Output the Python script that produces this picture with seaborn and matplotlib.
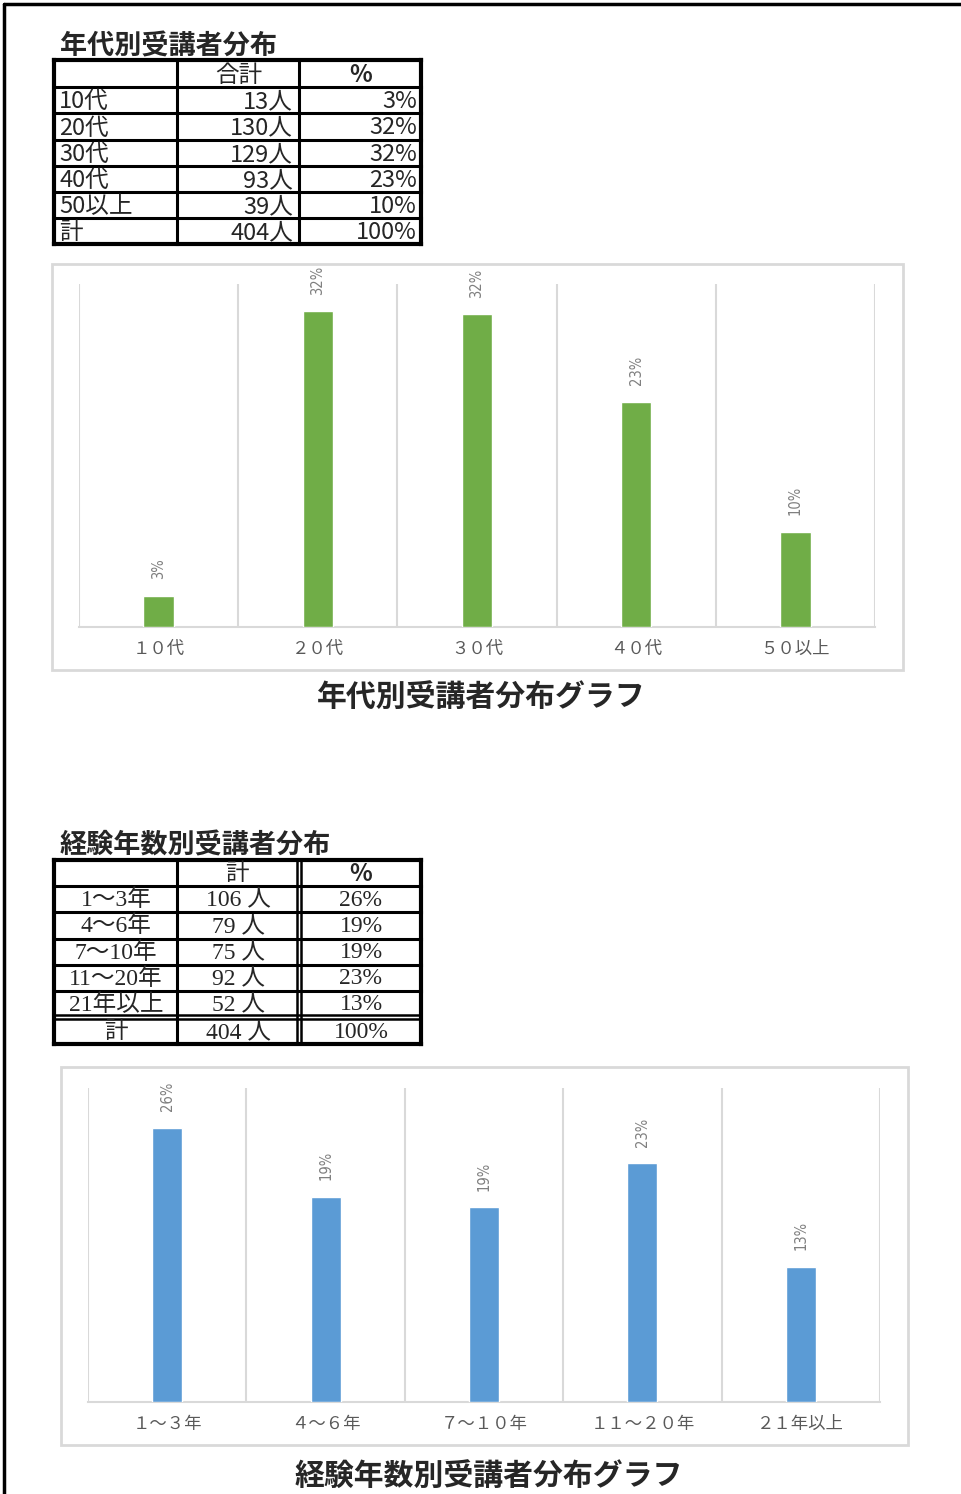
import matplotlib
matplotlib.use("Agg")
import matplotlib.pyplot as plt
import seaborn as sns
import pandas as pd

# --------------------------
# データ
# --------------------------
age_title = "年代別受講者分布"
age_cats = ["10代", "20代", "30代", "40代", "50以上"]
age_ticks = ["１０代", "２０代", "３０代", "４０代", "５０以上"]
age_counts = [13, 130, 129, 93, 39]
age_pct = [3.2, 32.2, 31.9, 23.0, 9.7]      # グラフの棒の高さ (%)
age_pct_label = ["3%", "32%", "32%", "23%", "10%"]
age_total = 404

exp_title = "経験年数別受講者分布"
exp_cats = ["1～3年", "4～6年", "7～10年", "11～20年", "21年以上"]
exp_ticks = ["１～３年", "４～６年", "７～１０年", "１１～２０年", "２１年以上"]
exp_counts = [106, 79, 75, 92, 52]
exp_pct = [26.2, 19.6, 18.6, 22.8, 12.9]
exp_pct_label = ["26%", "19%", "19%", "23%", "13%"]
exp_total = 404

W, H = 961, 1494
JP = ["Noto Sans CJK JP", "DejaVu Sans"]
MINCHO = ["Liberation Serif", "Noto Sans CJK JP"]

sns.set_theme(style="white")
plt.rcParams["font.family"] = JP

fig = plt.figure(figsize=(W / 100, H / 100), dpi=100)
bg = fig.add_axes([0, 0, 1, 1])
bg.set_xlim(0, W)
bg.set_ylim(H, 0)
bg.axis("off")

# ページ枠
bg.plot([4, W], [4, 4], color="black", lw=2.5)
bg.plot([4, 4], [4, H], color="black", lw=2.5)


def hline(x0, x1, y, lw=2.2):
    bg.plot([x0, x1], [y, y], color="black", lw=lw, solid_capstyle="projecting")


def vline(x, y0, y1, lw=2.2):
    bg.plot([x, x], [y0, y1], color="black", lw=lw, solid_capstyle="projecting")


# ===============================================================
# 表1: 年代別
# ===============================================================
bg.text(60, 46, age_title, fontsize=19.5, fontweight="bold", va="center", ha="left")
cols = [54, 177, 299, 421]
rows = [60, 87, 113, 140, 166, 192, 218, 244]
for y in rows:
    hline(cols[0], cols[-1], y, lw=3 if y in (60, 244) else 2.2)
for x in cols:
    vline(x, rows[0], rows[-1], lw=3 if x in (54, 421) else 2.2)

bg.text(239, 75, "合計", fontsize=17, ha="center", va="center")
bg.text(361, 75, "%", fontsize=17, ha="center", va="center", fontweight="bold")
row_labels = age_cats + ["計"]
row_counts = age_counts + [age_total]
row_pcts = age_pct_label + ["100%"]
for i in range(6):
    yc = (rows[i + 1] + rows[i + 2]) / 2 + 1.5
    bg.text(59, yc, row_labels[i], fontsize=17, ha="left", va="center")
    bg.text(293, yc, f"{row_counts[i]}人", fontsize=17, ha="right", va="center")
    bg.text(417, yc, row_pcts[i], fontsize=17, ha="right", va="center")

# ===============================================================
# 表2: 経験年数別
# ===============================================================
bg.text(60, 845, exp_title, fontsize=19.5, fontweight="bold", va="center", ha="left")
cols2 = [54, 177, 421]
rows2 = [860, 886, 912, 939, 965, 991, 1044]
for y in rows2:
    hline(54, 421, y, lw=3 if y in (860, 1044) else 2.2)
# 二重線
hline(54, 421, 1015, lw=1.8)
hline(54, 421, 1019, lw=1.8)
for x in cols2:
    vline(x, 860, 1044, lw=3 if x in (54, 421) else 2.2)
vline(297, 860, 1044, lw=1.8)
vline(301, 860, 1044, lw=1.8)

bg.text(237, 874, "計", fontsize=17, ha="center", va="center")
bg.text(361, 874, "%", fontsize=17, ha="center", va="center", fontweight="bold")
row_labels2 = exp_cats + ["計"]
row_counts2 = exp_counts + [exp_total]
row_pcts2 = exp_pct_label + ["100%"]
row_mid2 = [900, 926.5, 953, 979, 1005, 1032.5]
for i in range(6):
    yc = row_mid2[i]
    bg.text(116, yc, row_labels2[i], fontsize=17, ha="center", va="center", family=MINCHO)
    bg.text(238, yc, f"{row_counts2[i]} 人", fontsize=17, ha="center", va="center", family=MINCHO)
    bg.text(361, yc, row_pcts2[i], fontsize=17, ha="center", va="center", family=MINCHO)


# ===============================================================
# 棒グラフ
# ===============================================================
def bar_chart(box, area, cats, ticks, values, labels, color, ymax, title, title_y):
    bx0, by0, bx1, by1 = box
    bg.add_patch(plt.Rectangle((bx0, by0), bx1 - bx0, by1 - by0, fill=False,
                               ec="#D9D9D9", lw=2))
    x0, y0, x1, y1 = area
    ax = fig.add_axes([x0 / W, 1 - y1 / H, (x1 - x0) / W, (y1 - y0) / H])
    ax.patch.set_alpha(0)
    data = pd.DataFrame({"cat": cats, "pct": values})
    sns.barplot(data=data, x="cat", y="pct", color=color, width=0.19,
                saturation=1, ax=ax, zorder=3)
    ax.set_xlim(-0.5, len(cats) - 0.5)
    ax.set_ylim(0, ymax)
    for b in [i - 0.5 for i in range(len(cats) + 1)]:
        ax.axvline(b, color="#D9D9D9", lw=1.5, zorder=1)
    for s in ["left", "right", "top"]:
        ax.spines[s].set_visible(False)
    ax.spines["bottom"].set_color("#D9D9D9")
    ax.spines["bottom"].set_linewidth(1.5)
    ax.set_yticks([])
    ax.set_xticks(range(len(cats)))
    ax.set_xticklabels(ticks, fontsize=12.5, color="#595959")
    ax.tick_params(axis="x", length=0, pad=9)
    ax.set_xlabel("")
    ax.set_ylabel("")
    ax.bar_label(ax.containers[0], labels=labels, rotation=90, padding=12,
                 fontsize=10.5, color="#7F7F7F", family=["DejaVu Sans"],
                 fontstretch="condensed")
    bg.text((bx0 + bx1) / 2 + 4, title_y, title, fontsize=21.5, fontweight="bold",
            ha="center", va="center")
    return ax


bar_chart((52, 264, 903, 670), (79, 284, 875, 627), age_cats, age_ticks,
          age_pct, age_pct_label, "#70AD47", 35, "年代別受講者分布グラフ", 698)
bar_chart((61, 1067, 908, 1445), (88, 1088, 880, 1402), exp_cats, exp_ticks,
          exp_pct, exp_pct_label, "#5B9BD5", 30, "経験年数別受講者分布グラフ", 1477)

fig.savefig("out.png", dpi=100, facecolor="white")
